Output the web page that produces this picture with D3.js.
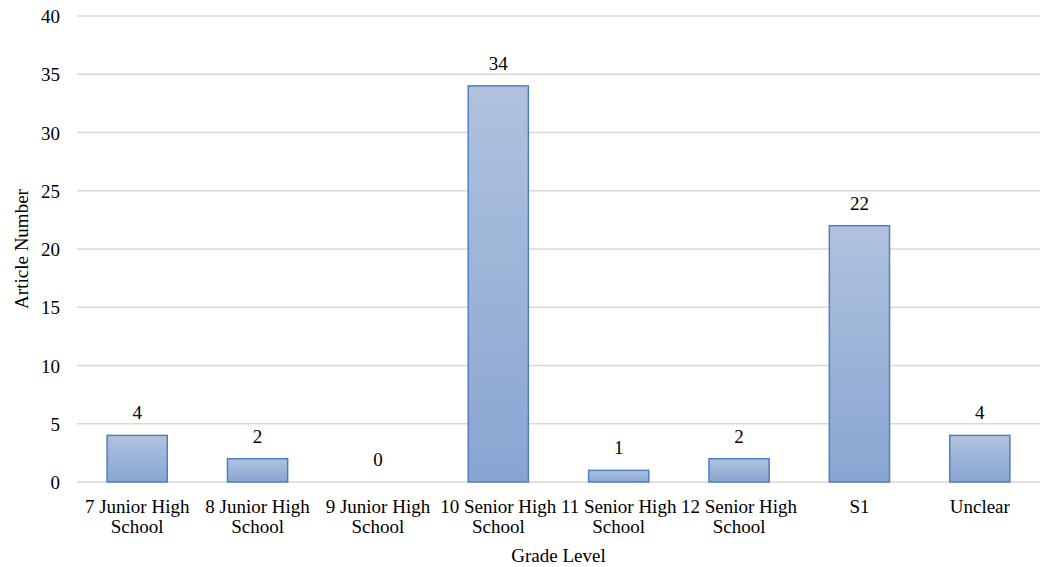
<!DOCTYPE html>
<html><head><meta charset="utf-8">
<script src="https://cdn.jsdelivr.net/npm/d3@7"></script>
<style>body{margin:0;background:#fff}svg{display:block}text{font-family:"Liberation Serif","DejaVu Serif",serif;fill:#000}</style>
</head><body><svg id="c" width="1042" height="567"></svg>
<script>
const categories = [["7 Junior High","School"],["8 Junior High","School"],["9 Junior High","School"],["10 Senior High","School"],["11 Senior High","School"],["12 Senior High","School"],["S1"],["Unclear"]];
const values = [4,2,0,34,1,2,22,4];
const yTicks = [0,5,10,15,20,25,30,35,40];
const xTitle = "Grade Level";
const yTitle = "Article Number";

const svg = d3.select("#c");
const W=1042,H=567, m={l:77,r:2,t:16,b:85};
const FS = "19px";
const x = d3.scaleBand().domain(d3.range(categories.length)).range([m.l,W-m.r]).paddingInner(0.5).paddingOuter(0.25);
const y = d3.scaleLinear().domain([0,40]).range([H-m.b,m.t]);

const defs = svg.append("defs");
const g = defs.append("linearGradient").attr("id","bg").attr("x1",0).attr("y1",0).attr("x2",0).attr("y2",1);
g.append("stop").attr("offset","0%").attr("stop-color","#b0c2de");
g.append("stop").attr("offset","100%").attr("stop-color","#88a5d2");

svg.append("g").selectAll("line").data(yTicks).join("line")
 .attr("x1",m.l).attr("x2",W-m.r).attr("y1",d=>y(d)).attr("y2",d=>y(d))
 .attr("stroke","#d9d9d9").attr("stroke-width",1.5);

const yAxis = d3.axisLeft(y).tickValues(yTicks).tickSize(0).tickPadding(0);
const ya = svg.append("g").attr("transform",`translate(${m.l-17},0)`).call(yAxis);
ya.select(".domain").remove();
ya.selectAll("text").style("font-size",FS).attr("dy","0.35em").style("font-family",null);

svg.append("g").selectAll("rect").data(values).join("rect")
 .attr("x",(d,i)=>x(i)).attr("width",x.bandwidth())
 .attr("y",d=>y(d)).attr("height",d=>y(0)-y(d))
 .attr("fill","url(#bg)").attr("stroke","#4f7ec3").attr("stroke-width",1.5)
 .attr("display",d=>d>0?null:"none");

svg.append("g").selectAll("text").data(values).join("text")
 .attr("x",(d,i)=>x(i)+x.bandwidth()/2).attr("y",d=>y(d)-16)
 .attr("text-anchor","middle").style("font-size",FS).text(d=>d);

const xl = svg.append("g").selectAll("text").data(categories).join("text")
 .attr("text-anchor","middle").style("font-size",FS)
 .attr("transform",(d,i)=>`translate(${x(i)+x.bandwidth()/2},${H-m.b+31})`);
xl.selectAll("tspan").data(d=>d).join("tspan").attr("x",0).attr("dy",(d,j)=>j?20:0).text(d=>d);

svg.append("text").attr("x",(m.l+W-m.r)/2).attr("y",562).attr("text-anchor","middle").style("font-size",FS).text(xTitle);
svg.append("text").attr("transform",`translate(28,${(m.t+H-m.b)/2}) rotate(-90)`).attr("text-anchor","middle").style("font-size",FS).text(yTitle);
</script></body></html>
